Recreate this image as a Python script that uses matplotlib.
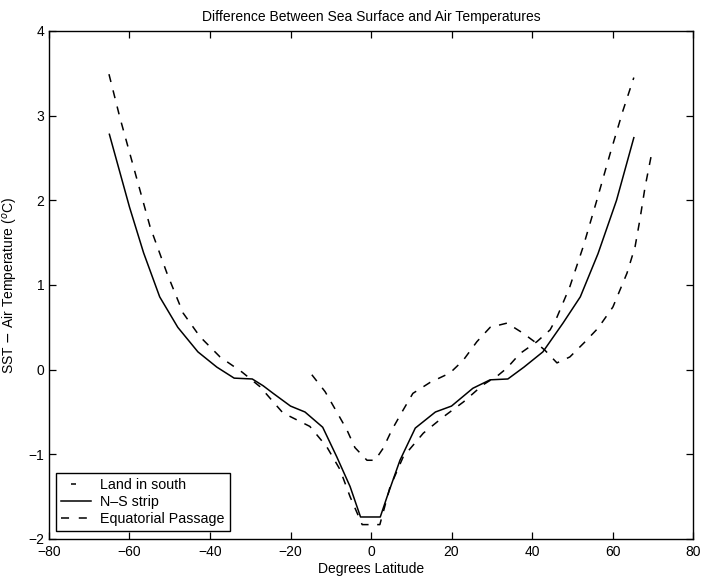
import numpy as np
import matplotlib.pyplot as plt
from matplotlib.lines import Line2D

plt.rcParams['font.family'] = ['Liberation Sans', 'DejaVu Sans']
plt.rcParams['font.size'] = 10
plt.rcParams['lines.scale_dashes'] = False

# N-S strip
lat_ns = [-65, -60, -56.5, -52.5, -48, -43, -38.3, -34, -29.5, -26.8, -24.3, -20,
          -16.4, -12, -8.5, -5.2, -2.6, 2.3, 4, 7.2, 11, 16, 20, 25.3, 29.6, 34,
          38, 42.7, 47.7, 52, 56.4, 61, 65.3]
sst_ns = [2.78, 1.92, 1.38, 0.86, 0.5, 0.21, 0.03, -0.1, -0.11, -0.19, -0.28, -0.43,
          -0.5, -0.68, -1.03, -1.38, -1.74, -1.74, -1.5, -1.07, -0.69, -0.5, -0.43, -0.22,
          -0.12, -0.11, 0.03, 0.21, 0.55, 0.86, 1.37, 2.0, 2.74]

# Equatorial Passage
lat_ep = [-65.1, -62.4, -58.1, -54.9, -50.7, -46.7, -42.5, -37.5, -32, -27.6, -21.9,
          -15.2, -11, -7.7, -5.2, -2.2, 2.2, 4.7, 8, 13, 17.9, 23, 27.8, 31.5, 33.8, 37,
          41.2, 44.5, 46.2, 49.4, 52.7, 56.1, 59.4, 62.6, 65.3]
sst_ep = [3.49, 2.98, 2.24, 1.69, 1.14, 0.67, 0.39, 0.15, -0.03, -0.2, -0.51,
          -0.67, -0.91, -1.18, -1.5, -1.83, -1.83, -1.39, -1.03, -0.75, -0.56, -0.38, -0.18, -0.07, 0.02, 0.19,
          0.33, 0.47, 0.62, 0.98, 1.45, 2.0, 2.55, 3.06, 3.45]

# Land in south
lat_ls = [-14.7, -11.4, -8.5, -6, -4, -1, 1, 3, 5.2, 7.7, 10.4, 14.7, 19.6, 22.9,
          26.3, 29.6, 33.8, 37.8, 41.2, 43.2, 46.2, 49.4, 53.2, 56.4, 60.1, 63.6,
          65.6, 66.8, 68.1, 69.8]
sst_ls = [-0.06, -0.26, -0.5, -0.71, -0.92, -1.07, -1.07, -0.93, -0.71, -0.5, -0.28,
          -0.15, -0.04, 0.11, 0.33, 0.5, 0.55, 0.43, 0.31, 0.23, 0.08, 0.15, 0.33,
          0.49, 0.74, 1.14, 1.45, 1.77, 2.16, 2.57]

fig = plt.figure(figsize=(7.02, 5.79), dpi=100)
ax = fig.add_axes([49 / 702, 1 - 539 / 579, 644 / 702, 508 / 579])

lw = 1.1
dash = (0, (5.8, 6.2))
ax.plot(lat_ls, sst_ls, color='black', lw=lw, ls=dash)
ax.plot(lat_ns, sst_ns, color='black', lw=lw, ls='-')
ax.plot(lat_ep, sst_ep, color='black', lw=lw, ls=dash)

ax.set_xlim(-80, 80)
ax.set_ylim(-2, 4)
ax.set_xticks(np.arange(-80, 81, 20))
ax.set_yticks(np.arange(-2, 5, 1))
ax.tick_params(direction='in', top=True, right=True, length=5, width=0.9, labelsize=10)
ax.tick_params(axis='x', pad=4.5)
for s in ax.spines.values():
    s.set_linewidth(1.0)

ax.set_title('Difference Between Sea Surface and Air Temperatures', fontsize=10, pad=7)
ax.set_xlabel('Degrees Latitude', fontsize=10, labelpad=2)
ax.set_ylabel(r'SST $-$ Air Temperature ($^o$C)', fontsize=10, labelpad=6)

# legend samples: single centred dash for the land case
handles = [
    Line2D([], [], color='black', lw=lw, ls=(36.4, (3.6, 40))),
    Line2D([], [], color='black', lw=lw, ls='-'),
    Line2D([], [], color='black', lw=lw, ls=(0, (5.8, 7.0))),
]
labels = ['Land in south', 'N\u2013S strip', 'Equatorial Passage']
leg = ax.legend(handles, labels, loc='lower left',
                bbox_to_anchor=(7 / 644, 8 / 508), borderaxespad=0,
                fancybox=False, edgecolor='black', framealpha=1,
                handlelength=2.1, handletextpad=0.65, labelspacing=0.2,
                borderpad=0.35, fontsize=10.3)
leg.get_frame().set_linewidth(1.0)

fig.savefig('out.png', dpi=100)
